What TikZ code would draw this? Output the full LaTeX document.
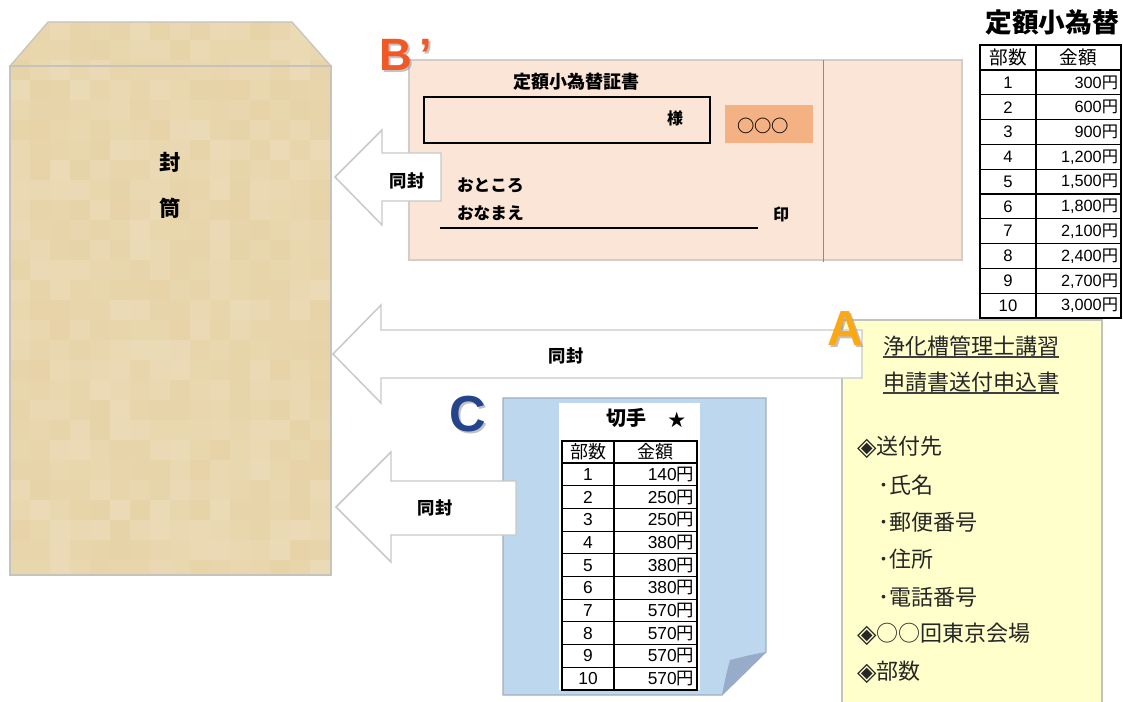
\documentclass[tikz,border=0pt]{standalone}
\usepackage{fontspec}
\setmainfont{Noto Sans CJK JP}
\newfontfamily\latf{Liberation Sans}
\newfontfamily\djv{DejaVu Sans}
\newcommand{\fsz}[1]{\fontsize{#1}{#1}\selectfont}
\newcommand{\dia}{{\djv\fsz{19}\raisebox{-0.5pt}{◈}}}
\definecolor{envbase}{RGB}{231,211,167}
\definecolor{envline}{RGB}{198,194,188}
\definecolor{bpeach}{RGB}{251,229,214}
\definecolor{bborder}{RGB}{212,204,200}
\definecolor{borange}{RGB}{244,177,131}
\definecolor{agray}{RGB}{200,200,200}
\definecolor{ayel}{RGB}{255,255,204}
\definecolor{aborder}{RGB}{195,195,185}
\definecolor{cblue}{RGB}{189,215,238}
\definecolor{cborder}{RGB}{160,172,188}
\definecolor{cfold}{RGB}{150,172,200}
\definecolor{bred}{RGB}{240,88,38}
\definecolor{aorange}{RGB}{252,168,20}
\definecolor{cdark}{RGB}{38,68,140}
\tikzset{
  lbl/.style={inner sep=0pt, outer sep=0pt},
  arrowbox/.style={fill=white, draw=agray, line width=1.1pt, line join=miter},
  tline/.style={draw=black, line width=0.8pt},
  bigletter/.style={lbl, font=\latf\bfseries\fsz{#1}},
}
\begin{document}
\begin{tikzpicture}[x=0.75pt,y=-0.75pt]
\useasboundingbox (0,0) rectangle (1123,702);

% ---------------- envelope
\begin{scope}
\clip (48,22) -- (292,22) -- (331,66) -- (331,575) -- (10,575) -- (10,66) -- cycle;
\fill[envbase] (0,0) rectangle (340,580);
\pgfmathsetseed{42}
\foreach \i in {0,...,16}{\foreach \j in {0,...,28}{
  \pgfmathsetmacro\op{0.17*rnd}
  \fill[white, opacity=\op] ({10+20*\i},{20+20*\j}) rectangle ++(20,20);
}}
\end{scope}
\draw[envline, line width=0.9pt] (48,22) -- (292,22) -- (331,66) -- (10,66) -- cycle;
\draw[envline, line width=0.9pt] (10,66) rectangle (331,575);
\node[lbl, font=\bfseries\fsz{16}] (fu) at (170,162) {封};
\node[lbl, font=\bfseries\fsz{16}] (tou) at (170,208) {筒};

% ---------------- B' document
\fill[bpeach] (409,60) rectangle (962,260);
\draw[bborder, line width=0.8pt] (409,60) rectangle (962,260);
\draw[black!45, line width=0.6pt] (823,60) -- (823,262);
\node[lbl, font=\bfseries\fsz{13.5}] (btitle) at (576,82) {定額小為替証書};
\draw[black, line width=1.1pt] (424,97) rectangle (710,143);
\node[lbl, font=\bfseries\fsz{12}] (sama) at (675,118) {様};
\fill[borange] (725,105) rectangle (813,143);
\node[lbl, font=\bfseries\fsz{13}] (ooo) at (763,126) {○○○};
\node[lbl, anchor=west, font=\bfseries\fsz{12.5}] (addr) at (457,185) {おところ};
\node[lbl, anchor=west, font=\bfseries\fsz{12.5}] (name) at (457,213) {おなまえ};
\draw[black, line width=1.5pt] (440,228) -- (758,228);
\node[lbl, font=\bfseries\fsz{12}] (in) at (781,214) {印};

\node[bigletter=34, text=black!40, opacity=0.6] at (408,57) {B\,’};
\node[bigletter=34, text=bred] (Bp) at (406,55) {B\,’};

% arrow 1
\draw[arrowbox] (335,177) -- (382,130) -- (382,153) -- (441,153) -- (441,201) -- (382,201) -- (382,225) -- cycle;
\node[lbl, font=\bfseries\fsz{13}] (d1) at (407,181) {同封};

% ---------------- right table
\node[lbl, font=\bfseries\fsz{20}] (rtitle) at (1052,22) {定額小為替};
\draw[tline] (980,45) rectangle (1121,318);
\draw[tline] (1036,45) -- (1036,318);
\foreach \k in {0,...,9} \draw[tline] (980,{70+24.8*\k}) -- (1121,{70+24.8*\k});
\node[lbl, font=\fsz{14}] (rh1) at (1008,57.5) {部数};
\node[lbl, font=\fsz{14}] (rh2) at (1078.5,57.5) {金額};
\foreach \n/\v [count=\k] in {1/300,2/600,3/900,4/{1,200},5/{1,500},6/{1,800},7/{2,100},8/{2,400},9/{2,700},10/{3,000}}{
  \node[lbl, font=\latf\fsz{12.5}] (rn\k) at (1008,{70+24.8*(\k-0.5)}) {\n};
  \node[lbl, anchor=east, font=\fsz{12.2}] (rv\k) at (1118,{70+24.8*(\k-0.5)}) {{\latf\v}円};
}

% ---------------- A box
\fill[ayel] (842,320) rectangle (1102,704);
\draw[aborder, line width=0.8pt] (842,704) -- (842,320) -- (1102,320) -- (1102,704);
\begin{scope}[every node/.style={lbl, anchor=west, text=black!85, font=\fsz{16.5}}]
\node (a1) at (883,346) {浄化槽管理士講習};
\node (a2) at (883,382) {申請書送付申込書};
\node (a3) at (857,447) {\dia 送付先};
\node (a4) at (878,485) {･氏名};
\node (a5) at (878,522) {･郵便番号};
\node (a6) at (878,559) {･住所};
\node (a7) at (878,597) {･電話番号};
\node (a8) at (857,634) {\dia ○○回東京会場};
\node (a9) at (857,672) {\dia 部数};
\end{scope}
\draw[black!75, line width=0.9pt] (883,357) -- (a1.east |- 0,357);
\draw[black!75, line width=0.9pt] (883,393) -- (a2.east |- 0,393);

% arrow 2
\draw[arrowbox] (333,354) -- (381,305) -- (381,330) -- (862,330) -- (862,378) -- (381,378) -- (381,403) -- cycle;
\node[lbl, font=\bfseries\fsz{13}] (d2) at (566,356) {同封};
\node[bigletter=37, text=black!40, opacity=0.6] at (847,331) {A};
\node[bigletter=37, text=aorange] (A) at (845,329) {A};

% ---------------- C document
\fill[cblue] (503,398) -- (766,398) -- (766,652) -- (722,695) -- (503,695) -- cycle;
\draw[cborder, line width=0.8pt] (503,398) -- (766,398) -- (766,652) -- (722,695) -- (503,695) -- cycle;
\fill[cfold] (766,652) .. controls (750,655) .. (730,660) .. controls (726,675) .. (722,695) -- cycle;
\fill[white] (559,403) rectangle (700,690);
\node[lbl, font=\bfseries\fsz{15}] (kitte) at (626,418) {切手};
\node[lbl, font=\fsz{13}] (star) at (677,420) {★};
\draw[tline] (562,441) rectangle (697,690);
\draw[tline] (614,441) -- (614,690);
\foreach \k in {0,...,9} \draw[tline] (562,{463+22.7*\k}) -- (697,{463+22.7*\k});
\node[lbl, font=\fsz{13.5}] (ch1) at (588,452) {部数};
\node[lbl, font=\fsz{13.5}] (ch2) at (655.5,452) {金額};
\foreach \v [count=\k] in {140,250,250,380,380,380,570,570,570,570}{
  \node[lbl, font=\latf\fsz{13}] (cn\k) at (588,{463+22.7*(\k-0.5)}) {\k};
  \node[lbl, anchor=east, font=\fsz{13}] (cv\k) at (694,{463+22.7*(\k-0.5)}) {{\latf\v}円};
}
\node[bigletter=38, text=black!40, opacity=0.6] at (470,416) {C};
\node[bigletter=38, text=cdark] (C) at (468,414) {C};

% arrow 3
\draw[arrowbox] (336,507) -- (391,452) -- (391,481) -- (516,481) -- (516,535) -- (391,535) -- (391,562) -- cycle;
\node[lbl, font=\bfseries\fsz{13}] (d3) at (435,508) {同封};
\end{tikzpicture}
\end{document}
